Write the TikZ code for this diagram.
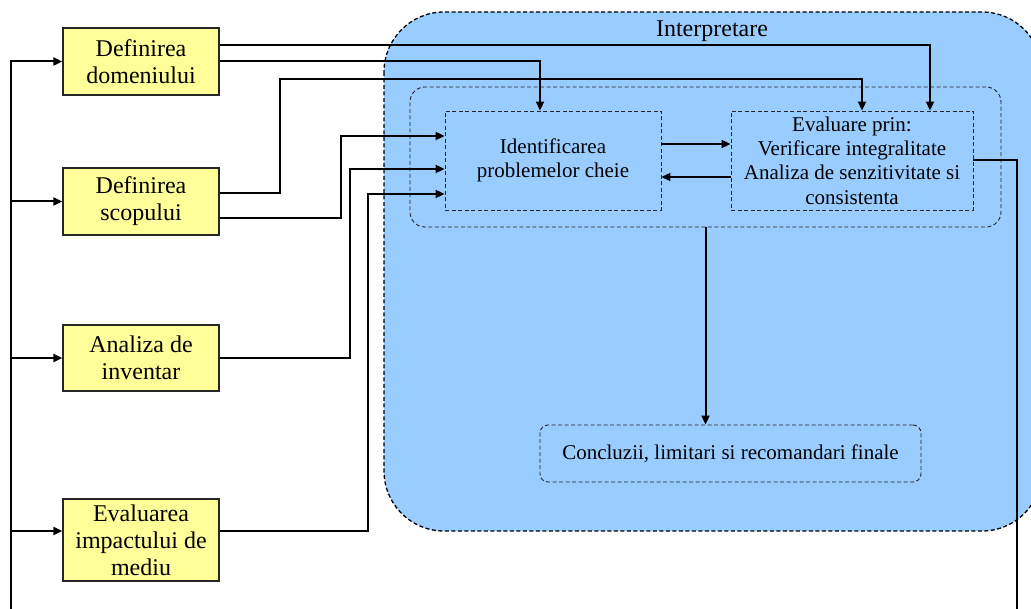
\documentclass[tikz,border=0pt]{standalone}
\usepackage{fontspec}
\setmainfont{Liberation Serif}
\usetikzlibrary{arrows.meta}
\definecolor{phaseblue}{HTML}{99CCFF}
\definecolor{stageyellow}{HTML}{FFFF99}
\begin{document}
\begin{tikzpicture}[x=1pt,y=-1pt,
  stage/.style={draw=black!85, line width=1.3pt, fill=stageyellow, minimum width=156pt,
    align=center, inner sep=0pt, font=\fontsize{24}{27}\selectfont},
  dashbox/.style={draw=black!85, line width=0.9pt, dash pattern=on 4pt off 2.5pt,
    align=center, inner sep=0pt, font=\fontsize{21}{24.3}\selectfont},
  conn/.style={draw=black, line width=2pt, -{Triangle[length=9pt,width=8pt]}}]
% page frame
\clip (0,0) rectangle (1031,609);
\fill[white] (0,0) rectangle (1031,609);

% interpretation phase
\draw[fill=phaseblue, line width=1.3pt, dash pattern=on 4pt off 2.5pt, rounded corners=60pt]
  (384,12) rectangle (1042,531);
\node[font=\fontsize{24}{27}\selectfont] (interp) at (712,31) {Interpretare};

% life cycle stages
\node[stage, minimum height=67pt] (dom) at (141,61.5) {Definirea\\domeniului};
\node[stage, minimum height=67pt] (scop) at (141,201.5) {Definirea\\scopului};
\node[stage, minimum height=66pt] (inv) at (141,358) {Analiza de\\inventar};
\node[stage, minimum height=82pt] (imp) at (141,540) {Evaluarea\\impactului de\\mediu};

% inner group
\node[dashbox, rounded corners=15pt, minimum width=591pt, minimum height=140pt] (group) at (705.5,157) {};
\node[dashbox, minimum width=216pt, minimum height=99pt] (ident) at (553,160.5) {Identificarea\\problemelor cheie};
\node[dashbox, minimum width=242pt, minimum height=99pt] (eval) at (852,160.5)
  {Evaluare prin:\\Verificare integralitate\\Analiza de senzitivitate si\\consistenta};
\node[dashbox, rounded corners=8pt, minimum width=381pt, minimum height=57pt] (concl) at (730.5,453.5)
  {Concluzii, limitari si recomandari finale};

% inputs into the interpretation
\draw[conn] ([yshift=16.5pt]dom.east) -| ([xshift=78pt]eval.north);
\draw[conn] (dom.east) -| ([xshift=-13pt]ident.north);
\draw[conn] ([yshift=8.5pt]scop.east) -| (280,79) -| ([xshift=10pt]eval.north);
\draw[conn] ([yshift=-16.5pt]scop.east) -| (341,136) -- ([yshift=24.5pt]ident.west);
\draw[conn] (inv.east) -| (350,169) -- ([yshift=-8.5pt]ident.west);
\draw[conn] ([yshift=9pt]imp.east) -| (368,194) -- ([yshift=-33.5pt]ident.west);

% exchange between identification and evaluation
\draw[conn] ([yshift=16.5pt]ident.east) -- ([yshift=16.5pt]eval.west);
\draw[conn] ([yshift=-16.5pt]eval.west) -- ([yshift=-16.5pt]ident.east);
\draw[conn] (group.south) -- (concl.north -| group.south);

% feedback loop to the stages
\draw[conn] (eval.east) -| (1017,640) -| ([xshift=-51pt]dom.west) -- (dom.west);
\draw[conn] ([xshift=-51pt]scop.west) -- (scop.west);
\draw[conn] ([xshift=-51pt]inv.west) -- (inv.west);
\draw[conn] ([xshift=-51pt,yshift=9pt]imp.west) -- ([yshift=9pt]imp.west);
\end{tikzpicture}
\end{document}
